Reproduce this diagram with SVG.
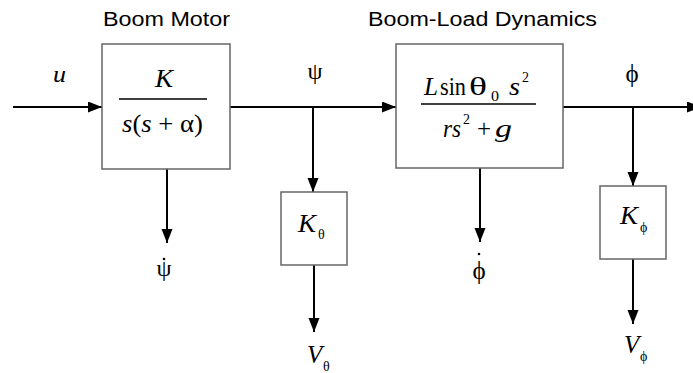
<svg xmlns="http://www.w3.org/2000/svg" width="693" height="373" viewBox="0 0 693 373">
<style>
.box{fill:#fff;stroke:#666;stroke-width:1.5}
.ln{fill:none;stroke:#000;stroke-width:2}
.frac{stroke:#000;stroke-width:1.3}
.title{font-family:"Liberation Sans",Arial,sans-serif;font-size:19.5px;fill:#000}
.m{font-family:"Liberation Serif","DejaVu Serif",serif;fill:#000}
.i{font-style:italic}
</style>
<defs>
<marker id="ah" markerUnits="userSpaceOnUse" markerWidth="14" markerHeight="12" refX="14" refY="5.5" orient="auto">
<path d="M0,0 L14,5.5 L0,11 z" fill="#000"/>
</marker>
</defs>
<rect width="693" height="373" fill="#fff"/>
<g id="connectors">
<path class="ln" d="M13,107 H102" marker-end="url(#ah)"/>
<path class="ln" d="M230,107 H396" marker-end="url(#ah)"/>
<path class="ln" d="M313,107 V192" marker-end="url(#ah)"/>
<path class="ln" d="M167,169 V243" marker-end="url(#ah)"/>
<path class="ln" d="M314,265 V332" marker-end="url(#ah)"/>
<path class="ln" d="M563,107 H701" marker-end="url(#ah)"/>
<path class="ln" d="M633,107 V186" marker-end="url(#ah)"/>
<path class="ln" d="M480,168 V242" marker-end="url(#ah)"/>
<path class="ln" d="M633,259 V324" marker-end="url(#ah)"/>
</g>
<g id="labels">
<text class="m i" x="53" y="82" font-size="24" textLength="13" lengthAdjust="spacingAndGlyphs">u</text>
<text class="m" x="315" y="79" font-size="24" text-anchor="middle">ψ</text>
<text class="m" x="632" y="82" font-size="25" text-anchor="middle">ϕ</text>
<text class="m" x="164" y="276" font-size="24" text-anchor="middle">ψ</text>
<circle cx="164" cy="259" r="1.3" fill="#000"/>
<text class="m" x="479" y="279" font-size="25" text-anchor="middle">ϕ</text>
<circle cx="479" cy="254" r="1.3" fill="#000"/>
<text class="m i" x="307" y="363" font-size="25">V</text>
<text class="m" x="323" y="371" font-size="14">θ</text>
<text class="m i" x="624" y="353" font-size="25">V</text>
<text class="m" x="640" y="361" font-size="14">ϕ</text>
</g>
<g id="boom-motor">
<text class="title" x="103" y="26" textLength="127" lengthAdjust="spacingAndGlyphs">Boom Motor</text>
<rect class="box" x="102" y="44" width="128" height="125"/>
<text class="m i" x="155" y="87" font-size="26" textLength="18" lengthAdjust="spacingAndGlyphs">K</text>
<line class="frac" x1="119" y1="99" x2="207" y2="99"/>
<text class="m" x="122" y="132" font-size="26" textLength="81" lengthAdjust="spacingAndGlyphs"><tspan class="i">s</tspan>(<tspan class="i">s</tspan> + α)</text>
</g>
<g id="boom-load-dynamics">
<text class="title" x="368" y="26" textLength="229" lengthAdjust="spacingAndGlyphs">Boom-Load Dynamics</text>
<rect class="box" x="396" y="44" width="167" height="124"/>
<text class="m i" x="424" y="95" font-size="25" textLength="14" lengthAdjust="spacingAndGlyphs">L</text>
<text class="m" x="440" y="95" font-size="25" textLength="26" lengthAdjust="spacingAndGlyphs">sin</text>
<text class="m" x="469" y="95" font-size="25" textLength="18" lengthAdjust="spacingAndGlyphs">θ</text>
<text class="m" x="491" y="101" font-size="14" textLength="8" lengthAdjust="spacingAndGlyphs">0</text>
<text class="m i" x="509" y="95" font-size="25" textLength="11" lengthAdjust="spacingAndGlyphs">s</text>
<text class="m" x="522" y="82" font-size="14">2</text>
<line class="frac" x1="421" y1="104" x2="536" y2="104"/>
<text class="m i" x="443" y="137" font-size="25" textLength="18" lengthAdjust="spacingAndGlyphs">rs</text>
<text class="m" x="463" y="124" font-size="14">2</text>
<text class="m" x="477" y="137" font-size="25" textLength="14" lengthAdjust="spacingAndGlyphs">+</text>
<text class="m i" x="495" y="137" font-size="25" textLength="17" lengthAdjust="spacingAndGlyphs">g</text>
</g>
<g id="k-theta">
<rect class="box" x="281" y="192" width="66" height="73"/>
<text class="m i" x="298" y="232" font-size="25" textLength="18" lengthAdjust="spacingAndGlyphs">K</text>
<text class="m" x="318" y="239" font-size="14">θ</text>
</g>
<g id="k-phi">
<rect class="box" x="600" y="186" width="66" height="73"/>
<text class="m i" x="620" y="224" font-size="25" textLength="18" lengthAdjust="spacingAndGlyphs">K</text>
<text class="m" x="640" y="232" font-size="14">ϕ</text>
</g>
</svg>
